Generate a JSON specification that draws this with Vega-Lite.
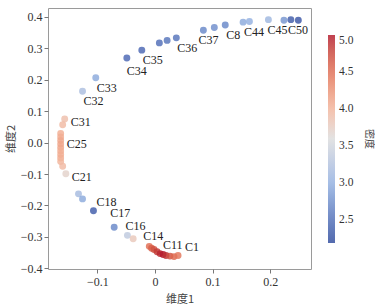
{
  "$schema": "https://vega.github.io/schema/vega-lite/v6.json",
  "autosize": {"type": "none"},
  "padding": {"left": 48, "top": 8, "right": 64, "bottom": 37},
  "width": 263,
  "height": 261,
  "config": {
    "font": "'Liberation Serif', 'Noto Sans CJK SC', serif",
    "view": {"stroke": "#9a9a9a", "strokeWidth": 1},
    "text": {"font": "'Liberation Serif', serif"},
    "axis": {
      "grid": false,
      "domain": false,
      "tickColor": "#777",
      "tickSize": 4,
      "labelFont": "'Liberation Serif', serif",
      "labelFontSize": 12,
      "labelColor": "#333",
      "titleFont": "'Noto Sans CJK SC', sans-serif",
      "titleFontSize": 11,
      "titleFontWeight": "normal",
      "titleColor": "#444"
    }
  },
  "data": {
    "values": [
      {"x": -0.126, "y": 0.163, "d": 3.2, "label": "C32"},
      {"x": -0.103, "y": 0.206, "d": 2.95, "label": "C33"},
      {"x": -0.049, "y": 0.269, "d": 2.45, "label": "C34"},
      {"x": -0.023, "y": 0.294, "d": 2.45, "label": "C35"},
      {"x": 0.0075, "y": 0.317, "d": 2.5, "label": ""},
      {"x": 0.021, "y": 0.325, "d": 2.55, "label": ""},
      {"x": 0.037, "y": 0.333, "d": 2.55, "label": "C36"},
      {"x": 0.084, "y": 0.357, "d": 2.7, "label": "C37"},
      {"x": 0.103, "y": 0.366, "d": 2.75, "label": ""},
      {"x": 0.122, "y": 0.374, "d": 2.7, "label": "C8"},
      {"x": 0.153, "y": 0.383, "d": 2.95, "label": "C44"},
      {"x": 0.164, "y": 0.385, "d": 3.0, "label": ""},
      {"x": 0.197, "y": 0.391, "d": 3.1, "label": "C45"},
      {"x": 0.224, "y": 0.389, "d": 2.8, "label": "C50"},
      {"x": 0.236, "y": 0.391, "d": 2.35, "label": ""},
      {"x": 0.249, "y": 0.389, "d": 2.3, "label": ""},
      {"x": -0.157, "y": 0.075, "d": 3.9, "label": "C31"},
      {"x": -0.1605, "y": 0.057, "d": 3.95, "label": ""},
      {"x": -0.164, "y": 0.029, "d": 4.05, "label": ""},
      {"x": -0.164, "y": 0.0175, "d": 4.05, "label": ""},
      {"x": -0.164, "y": 0.0064, "d": 4.1, "label": "C25"},
      {"x": -0.164, "y": -0.0048, "d": 4.1, "label": ""},
      {"x": -0.164, "y": -0.016, "d": 4.1, "label": ""},
      {"x": -0.164, "y": -0.027, "d": 4.05, "label": ""},
      {"x": -0.164, "y": -0.038, "d": 4.05, "label": ""},
      {"x": -0.164, "y": -0.049, "d": 4.05, "label": ""},
      {"x": -0.164, "y": -0.060, "d": 4.0, "label": ""},
      {"x": -0.1605, "y": -0.075, "d": 3.95, "label": ""},
      {"x": -0.155, "y": -0.099, "d": 3.7, "label": "C21"},
      {"x": -0.133, "y": -0.163, "d": 3.15, "label": ""},
      {"x": -0.126, "y": -0.179, "d": 2.95, "label": ""},
      {"x": -0.107, "y": -0.217, "d": 2.35, "label": "C18"},
      {"x": -0.071, "y": -0.269, "d": 2.7, "label": "C17"},
      {"x": -0.048, "y": -0.295, "d": 3.35, "label": "C16"},
      {"x": -0.038, "y": -0.306, "d": 3.8, "label": ""},
      {"x": -0.010, "y": -0.330, "d": 4.5, "label": "C14"},
      {"x": -0.006, "y": -0.336, "d": 4.6, "label": ""},
      {"x": -0.0017, "y": -0.340, "d": 4.7, "label": ""},
      {"x": 0.0035, "y": -0.347, "d": 4.85, "label": ""},
      {"x": 0.0087, "y": -0.353, "d": 4.95, "label": "C11"},
      {"x": 0.014, "y": -0.356, "d": 5.0, "label": ""},
      {"x": 0.019, "y": -0.359, "d": 4.9, "label": ""},
      {"x": 0.026, "y": -0.361, "d": 4.7, "label": ""},
      {"x": 0.033, "y": -0.3626, "d": 4.55, "label": ""},
      {"x": 0.040, "y": -0.359, "d": 4.45, "label": "C1"}
    ]
  },
  "encoding": {
    "x": {
      "field": "x", "type": "quantitative",
      "scale": {"domain": [-0.186, 0.271], "nice": false, "zero": false},
      "axis": {"values": [-0.1, 0, 0.1, 0.2], "format": "~g", "title": "维度1", "titlePadding": 6, "labelPadding": 3}
    },
    "y": {
      "field": "y", "type": "quantitative",
      "scale": {"domain": [-0.402, 0.428], "nice": false, "zero": false},
      "axis": {"values": [-0.4, -0.3, -0.2, -0.1, 0, 0.1, 0.2, 0.3, 0.4], "format": ".1f", "title": "维度2", "titlePadding": 4, "labelPadding": 2}
    }
  },
  "layer": [
    {
      "mark": {"type": "circle", "size": 48, "opacity": 0.82},
      "encoding": {
        "color": {
          "field": "d", "type": "quantitative",
          "scale": {
            "domain": [2.19, 2.5, 3.0, 3.6, 4.0, 4.5, 5.0],
            "range": ["#2e4a9c", "#4f6db7", "#92b0e0", "#dcdcdc", "#f2b49b", "#e16d52", "#b3172a"]
          },
          "legend": {
            "orient": "none",
            "legendX": 280,
            "legendY": 27,
            "direction": "vertical",
            "gradientLength": 208,
            "gradientThickness": 7,
            "gradientStrokeWidth": 0,
            "values": [2.5, 3.0, 3.5, 4.0, 4.5, 5.0],
            "format": ".1f",
            "labelFont": "'Liberation Serif', serif",
            "labelFontSize": 11.5,
            "labelColor": "#333",
            "labelOffset": 4,
            "title": "密度",
            "titleOrient": "right",
            "titleAngle": 270,
            "titleAnchor": "middle",
            "titleBaseline": "top",
            "titleFont": "'Noto Sans CJK SC', sans-serif",
            "titleFontSize": 10,
            "titleFontWeight": "normal",
            "titleColor": "#444",
            "titlePadding": 21
          }
        }
      }
    },
    {
      "transform": [{"filter": {"field": "label", "oneOf": ["C32", "C33", "C35", "C36", "C8", "C44"]}}],
      "mark": {"type": "text", "align": "left", "baseline": "middle", "dx": 1, "dy": 10, "fontSize": 12, "color": "#222"},
      "encoding": {"text": {"field": "label"}}
    },
    {
      "transform": [{"filter": {"field": "label", "oneOf": ["C45"]}}],
      "mark": {"type": "text", "align": "left", "baseline": "middle", "dx": -1, "dy": 10, "fontSize": 12, "color": "#222"},
      "encoding": {"text": {"field": "label"}}
    },
    {
      "transform": [{"filter": {"field": "label", "oneOf": ["C34"]}}],
      "mark": {"type": "text", "align": "left", "baseline": "middle", "dx": 0, "dy": 13, "fontSize": 12, "color": "#222"},
      "encoding": {"text": {"field": "label"}}
    },
    {
      "transform": [{"filter": {"field": "label", "oneOf": ["C50"]}}],
      "mark": {"type": "text", "align": "left", "baseline": "middle", "dx": 4, "dy": 10, "fontSize": 12, "color": "#222"},
      "encoding": {"text": {"field": "label"}}
    },
    {
      "transform": [{"filter": {"field": "label", "oneOf": ["C37"]}}],
      "mark": {"type": "text", "align": "left", "baseline": "middle", "dx": -5, "dy": 10, "fontSize": 12, "color": "#222"},
      "encoding": {"text": {"field": "label"}}
    },
    {
      "transform": [{"filter": {"field": "label", "oneOf": ["C31", "C25", "C21"]}}],
      "mark": {"type": "text", "align": "left", "baseline": "middle", "dx": 6, "dy": 3, "fontSize": 12, "color": "#222"},
      "encoding": {"text": {"field": "label"}}
    },
    {
      "transform": [{"filter": {"field": "label", "oneOf": ["C18", "C11"]}}],
      "mark": {"type": "text", "align": "left", "baseline": "middle", "dx": 3, "dy": -9, "fontSize": 12, "color": "#222"},
      "encoding": {"text": {"field": "label"}}
    },
    {
      "transform": [{"filter": {"field": "label", "oneOf": ["C1"]}}],
      "mark": {"type": "text", "align": "left", "baseline": "middle", "dx": 7, "dy": -8, "fontSize": 12, "color": "#222"},
      "encoding": {"text": {"field": "label"}}
    },
    {
      "transform": [{"filter": {"field": "label", "oneOf": ["C17"]}}],
      "mark": {"type": "text", "align": "left", "baseline": "middle", "dx": -4, "dy": -14, "fontSize": 12, "color": "#222"},
      "encoding": {"text": {"field": "label"}}
    },
    {
      "transform": [{"filter": {"field": "label", "oneOf": ["C16"]}}],
      "mark": {"type": "text", "align": "left", "baseline": "middle", "dx": -2, "dy": -9, "fontSize": 12, "color": "#222"},
      "encoding": {"text": {"field": "label"}}
    },
    {
      "transform": [{"filter": {"field": "label", "oneOf": ["C14"]}}],
      "mark": {"type": "text", "align": "left", "baseline": "middle", "dx": -6, "dy": -10, "fontSize": 12, "color": "#222"},
      "encoding": {"text": {"field": "label"}}
    }
  ]
}
